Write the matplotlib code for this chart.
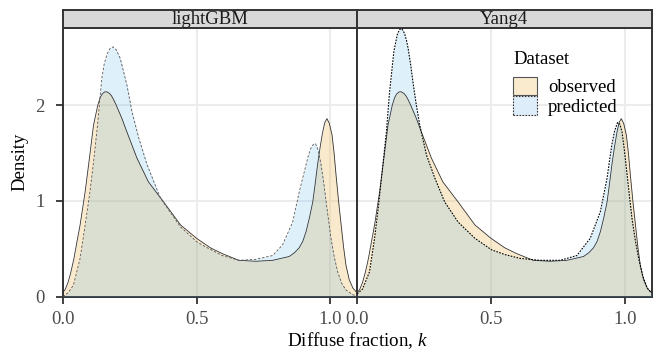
import matplotlib
matplotlib.use("Agg")
import matplotlib.pyplot as plt
from matplotlib.patches import Patch

plt.rcParams['font.family'] = ['Liberation Serif', 'DejaVu Serif']
plt.rcParams['mathtext.fontset'] = 'custom'
plt.rcParams['mathtext.rm'] = 'Liberation Serif'
plt.rcParams['mathtext.it'] = 'Liberation Serif:italic'

# observed density (same in both panels)
obs_x = [0.0, 0.01, 0.02, 0.03, 0.042, 0.053, 0.065, 0.084, 0.10, 0.115, 0.131, 0.14, 0.148, 0.157,
         0.165, 0.174, 0.182, 0.19, 0.20, 0.22, 0.24, 0.277, 0.32, 0.377, 0.44, 0.50, 0.552, 0.596,
         0.658, 0.721, 0.784, 0.846, 0.866, 0.883, 0.897, 0.909, 0.922, 0.934, 0.943, 0.952, 0.962,
         0.971, 0.979, 0.987, 0.996, 1.006, 1.014, 1.021, 1.03, 1.04, 1.049, 1.058, 1.07, 1.084, 1.10]
obs_y = [0.04, 0.08, 0.15, 0.25, 0.40, 0.57, 0.75, 1.10, 1.45, 1.79, 2.00, 2.08, 2.12, 2.14,
         2.14, 2.125, 2.10, 2.06, 2.00, 1.87, 1.72, 1.45, 1.20, 0.99, 0.75, 0.61, 0.51, 0.45,
         0.38, 0.37, 0.38, 0.42, 0.46, 0.51, 0.58, 0.68, 0.83, 0.99, 1.18, 1.38, 1.57,
         1.72, 1.82, 1.86, 1.81, 1.69, 1.49, 1.27, 1.01, 0.75, 0.52, 0.33, 0.18, 0.09, 0.04]

# predicted density, lightGBM
lgb_x = [0.0, 0.02, 0.04, 0.065, 0.084, 0.102, 0.117, 0.130, 0.146, 0.155, 0.165, 0.176, 0.187, 0.20,
         0.215, 0.24, 0.259, 0.284, 0.315, 0.365, 0.44, 0.50, 0.534, 0.596, 0.658, 0.721, 0.784,
         0.821, 0.859, 0.884, 0.909, 0.918, 0.927, 0.936, 0.944, 0.952, 0.958, 0.965, 0.975, 0.984,
         0.993, 1.002, 1.014, 1.027, 1.042, 1.058, 1.084, 1.10]
lgb_y = [0.0, 0.04, 0.12, 0.40, 0.75, 1.10, 1.45, 1.79, 2.28, 2.43, 2.53, 2.59, 2.61, 2.58,
         2.49, 2.21, 1.93, 1.66, 1.38, 1.03, 0.73, 0.575, 0.52, 0.43, 0.38, 0.39, 0.43,
         0.54, 0.78, 1.10, 1.38, 1.48, 1.55, 1.59, 1.60, 1.55, 1.48, 1.38, 1.19, 0.99,
         0.80, 0.61, 0.42, 0.26, 0.14, 0.07, 0.02, 0.01]

# predicted density, Yang4
yang_x = [0.0, 0.02, 0.046, 0.065, 0.080, 0.096, 0.109, 0.121, 0.137, 0.144, 0.150, 0.158, 0.165,
          0.172, 0.178, 0.184, 0.19, 0.20, 0.208, 0.22, 0.234, 0.259, 0.29, 0.327, 0.377, 0.44,
          0.502, 0.552, 0.609, 0.684, 0.759, 0.821, 0.871, 0.909, 0.934, 0.943, 0.952, 0.962,
          0.973, 0.982, 0.99, 1.0, 1.009, 1.018, 1.027, 1.04, 1.052, 1.067, 1.084, 1.10]
yang_y = [0.03, 0.08, 0.26, 0.61, 0.96, 1.38, 1.72, 2.14, 2.56, 2.66, 2.74, 2.79, 2.80,
          2.78, 2.74, 2.68, 2.60, 2.42, 2.25, 2.02, 1.79, 1.48, 1.24, 0.99, 0.78, 0.61,
          0.49, 0.44, 0.40, 0.38, 0.38, 0.43, 0.61, 0.89, 1.24, 1.42, 1.59, 1.73,
          1.82, 1.80, 1.72, 1.50, 1.27, 1.04, 0.82, 0.58, 0.40, 0.22, 0.09, 0.04]

panels = ["lightGBM", "Yang4"]
x_ticks = [0.0, 0.5, 1.0]
x_tick_labels = ["0.0", "0.5", "1.0"]
y_ticks = [0, 1, 2]

W, H = 657, 355
fig = plt.figure(figsize=(W / 100, H / 100), dpi=100)

OBS_FILL = '#F2BE66'
PRED_FILL = '#5AB4EA'
EDGE = '#333333'
FS = 13.5

def px_axes(x0, x1, y0, y1):
    return fig.add_axes([x0 / W, (H - y1) / H, (x1 - x0) / W, (y1 - y0) / H])

panel_px = [(62.7, 357.2), (357.2, 651.5)]
top, bottom = 27.7, 296.7
pred_data = [(lgb_x, lgb_y, '#555555', (0, (3, 2)), 0.6),
             (yang_x, yang_y, '#000000', (0, (1.5, 1.2)), 0.8)]

for i, (name, (x0, x1)) in enumerate(zip(panels, panel_px)):
    ax = px_axes(x0, x1, top, bottom)
    ax.set_xlim(0, 1.1)
    ax.set_ylim(0, 2.81)
    ax.fill_between(obs_x, obs_y, 0, color=OBS_FILL, alpha=0.32, lw=0, zorder=2)
    px_, py_, lc, ls, lw = pred_data[i]
    ax.fill_between(px_, py_, 0, color=PRED_FILL, alpha=0.2, lw=0, zorder=3)
    ax.plot(obs_x, obs_y, color='#333333', lw=0.6, zorder=4)
    ax.plot(px_, py_, color=lc, lw=lw, ls=ls, zorder=5)
    ax.set_xticks(x_ticks)
    ax.set_xticklabels(x_tick_labels)
    ax.set_yticks(y_ticks)
    ax.grid(True, color='#EBEBEB', lw=1.3, zorder=0)
    ax.set_axisbelow(True)
    for s in ax.spines.values():
        s.set_color(EDGE)
        s.set_linewidth(1.4)
    ax.tick_params(axis='x', colors=EDGE, length=5, width=1.3, labelsize=FS,
                   labelcolor='#4D4D4D', pad=5)
    ax.tick_params(axis='y', colors=EDGE, length=5, width=1.3, labelsize=FS,
                   labelcolor='#4D4D4D', pad=8)
    if i == 0:
        ax.set_ylabel("Density", fontsize=FS, labelpad=5)
    else:
        ax.set_yticklabels([])
        ax.tick_params(axis='y', length=0)
        handles = [Patch(facecolor=(0.98, 0.92, 0.81), edgecolor='#555555', lw=0.8, label='observed'),
                   Patch(facecolor=(0.87, 0.93, 0.98), edgecolor='#333333', lw=0.8,
                         linestyle=(0, (1.5, 1.2)), label='predicted')]
        leg = ax.legend(handles=handles, title='Dataset', loc='upper left',
                        bbox_to_anchor=(0.505, 0.94), frameon=False, fontsize=FS,
                        title_fontsize=FS, handlelength=1.25, handleheight=1.15,
                        handletextpad=0.6, labelspacing=0.0, borderaxespad=0)
        leg._legend_box.align = 'left'
        leg._legend_box.sep = 6
    # strip
    sax = px_axes(x0, x1, 10, top)
    sax.set_xticks([]); sax.set_yticks([])
    sax.set_facecolor('#D9D9D9')
    for s in sax.spines.values():
        s.set_color(EDGE)
        s.set_linewidth(1.4)
    sax.text(0.5, 0.45, name, ha='center', va='center', fontsize=FS, color='#1A1A1A',
             transform=sax.transAxes)

fig.text((62.7 + 651.5) / 2 / W, 1 - 341 / H, r"Diffuse fraction, $\mathit{k}$",
         ha='center', va='center', fontsize=13.7)

fig.savefig("out.png", dpi=100)
